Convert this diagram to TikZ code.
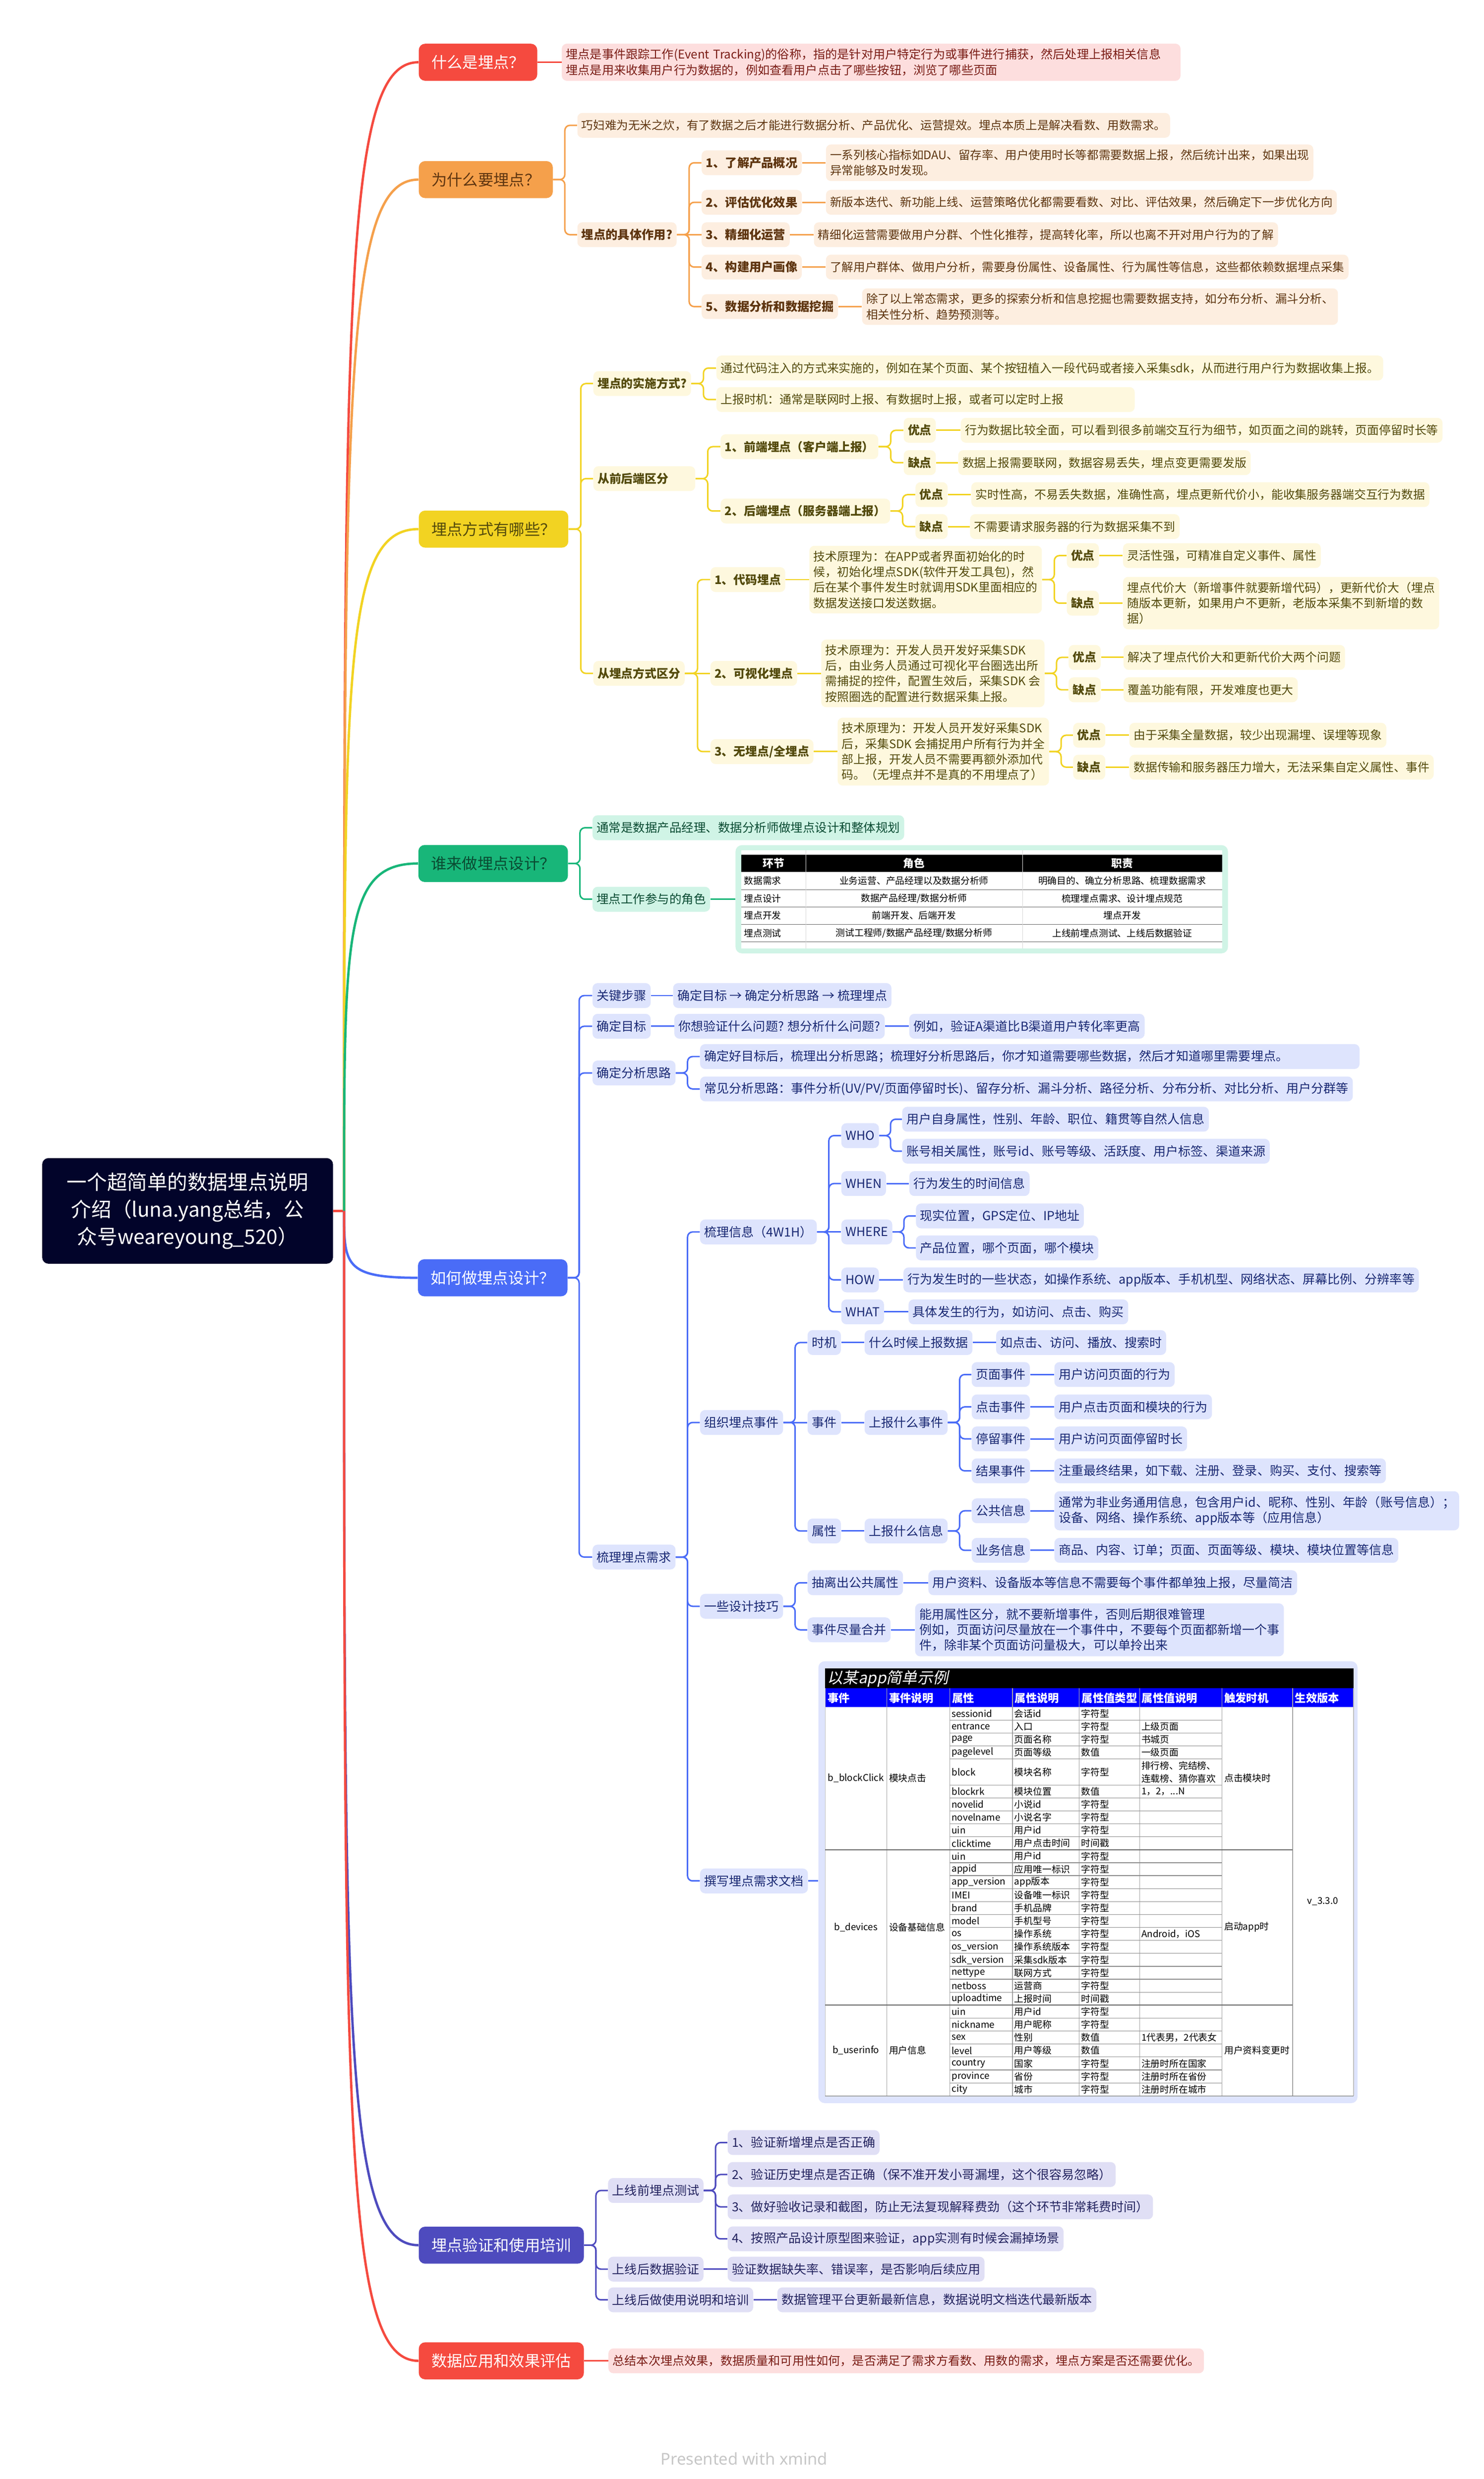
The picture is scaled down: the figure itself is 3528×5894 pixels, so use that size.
\documentclass[tikz,border=0pt]{standalone}
\usepackage{fontspec}
\setmainfont{Noto Sans CJK SC}
\newfontfamily\slantfont[FakeSlant=0.2]{Noto Sans CJK SC}
\newfontfamily\creditfont{Noto Sans}
\usetikzlibrary{calc}
\usetikzlibrary{positioning}

\definecolor{rootc}{HTML}{02042A}
\definecolor{rdM}{HTML}{F54A3F}
\definecolor{rdL}{HTML}{FDDEDE}
\definecolor{rdT}{HTML}{7A1C15}
\definecolor{ogM}{HTML}{F5A04B}
\definecolor{ogL}{HTML}{FDEEE0}
\definecolor{ogT}{HTML}{5E3510}
\definecolor{ylM}{HTML}{F2D322}
\definecolor{ylL}{HTML}{FEF8DE}
\definecolor{ylT}{HTML}{534A0C}
\definecolor{gnM}{HTML}{18B679}
\definecolor{gnL}{HTML}{D0F4E6}
\definecolor{gnT}{HTML}{0A4B32}
\definecolor{blM}{HTML}{4A6CF7}
\definecolor{blL}{HTML}{DEE4FD}
\definecolor{blT}{HTML}{192873}
\definecolor{ppM}{HTML}{4E4BBE}
\definecolor{ppL}{HTML}{E0DFF5}
\definecolor{ppT}{HTML}{23235F}

% leaf text size per branch (plain / bold)
\newcommand\fsrd{8.1}
\newcommand\fsog{7.9}
\newcommand\fsyl{8.0}
\newcommand\fsgn{8.2}
\newcommand\fsbl{8.4}
\newcommand\fspp{8.4}
\newcommand\fbog{8.15}
\newcommand\fbyl{8.0}

\tikzset{
  rootbox/.style={fill=rootc, text=white, rounded corners=0.15cm, align=center,
    inner sep=0pt, minimum width=6.91cm, minimum height=2.51cm,
    font=\fontsize{13.6}{18.5}\selectfont},
  topic/.style={fill=#1M, rounded corners=0.15cm, anchor=west, minimum height=0.88cm,
    inner xsep=0.3cm, font=\fontsize{10.5}{13}\selectfont},
  leaf/.style={fill=#1L, text=#1T, rounded corners=0.12cm, anchor=west,
    minimum height=0.59cm, inner xsep=0.1cm, inner ysep=0.12cm, align=left,
    font=\fontsize{\csname fs#1\endcsname}{10.5}\selectfont},
  bleaf/.style={leaf=#1, font=\fontsize{\csname fb#1\endcsname}{10.5}\selectfont\bfseries},
  link/.style={draw=#1M, line width=1pt, rounded corners=0.12cm},
  limb/.style={draw=#1M, line width=1.6pt},
  cell/.style={anchor=west, inner sep=0pt, align=left, font=\fontsize{6.3}{8.8}\selectfont},
  hcell/.style={inner sep=0pt, text=white, font=\fontsize{7.3}{9}\selectfont\bfseries},
  rule/.style={draw=black!60, line width=0.4pt},
}

\begin{document}
\begin{tikzpicture}[x=0.01cm, y=-0.01cm]

\fill[white] (0,0) rectangle (3528,5894);
\useasboundingbox (0,0) rectangle (3528,5894);

% root and main topics
\node[rootbox] (root) at (446,2879) {一个超简单的数据埋点说明\\介绍（luna.yang总结，公\\众号weareyoung\_520）};
\coordinate (J) at (818,2879);

\node[topic=rd, text=white] (t1) at (995,148) {什么是埋点？};
\node[topic=og, text=ogT] (t2) at (995,427) {为什么要埋点？};
\node[topic=yl, text=ylT] (t3) at (995,1258) {埋点方式有哪些？};
\node[topic=gn, text=gnT] (t4) at (994,2053) {谁来做埋点设计？};
\node[topic=bl, text=white] (t5) at (993,3038) {如何做埋点设计？};
\node[topic=pp, text=white] (t6) at (995,5338) {埋点验证和使用培训};
\node[topic=rd, text=white] (t7) at (995,5613) {数据应用和效果评估};

\draw[limb=rd] (root.east) -- (J);
\draw[limb=rd] (J) .. controls ($(J)!0.8!(J |- t1.west)$) and (J |- t1.west) .. (t1.west);
\draw[limb=og] (J) .. controls ($(J)!0.8!(J |- t2.west)$) and (J |- t2.west) .. (t2.west);
\draw[limb=yl] (J) .. controls ($(J)!0.8!(J |- t3.west)$) and (J |- t3.west) .. (t3.west);
\draw[limb=gn] (J) .. controls ($(J)!0.8!(J |- t4.west)$) and (J |- t4.west) .. (t4.west);
\draw[limb=bl] (J) .. controls ($(J)!0.8!(J |- t5.west)$) and (J |- t5.west) .. (t5.west);
\draw[limb=pp] (J) .. controls ($(J)!0.8!(J |- t6.west)$) and (J |- t6.west) .. (t6.west);
\draw[limb=rd] (J) .. controls ($(J)!0.8!(J |- t7.west)$) and (J |- t7.west) .. (t7.west);

% what
\node[leaf=rd, text width=14.5cm] (t1a) at (1335,148) {埋点是事件跟踪工作(Event Tracking)的俗称，指的是针对用户特定行为或事件进行捕获，然后处理上报相关信息\\埋点是用来收集用户行为数据的，例如查看用户点击了哪些按钮，浏览了哪些页面};
\draw[link=rd] (t1.east) -- (t1a.west);

% why
\node[leaf=og] (t2a) at (1372,298) {巧妇难为无米之炊，有了数据之后才能进行数据分析、产品优化、运营提效。埋点本质上是解决看数、用数需求。};
\node[bleaf=og] (t2b) at (1372,558) {埋点的具体作用?};
\node[bleaf=og] (w1) at ($(t2b.east |- 0,387)+(58,0)$) {1、了解产品概况};
\node[bleaf=og] (w2) at ($(t2b.east |- 0,481)+(58,0)$) {2、评估优化效果};
\node[bleaf=og] (w3) at ($(t2b.east |- 0,558)+(58,0)$) {3、精细化运营};
\node[bleaf=og] (w4) at ($(t2b.east |- 0,635)+(58,0)$) {4、构建用户画像};
\node[bleaf=og] (w5) at ($(t2b.east |- 0,729)+(58,0)$) {5、数据分析和数据挖掘};
\node[leaf=og, right=0.56cm of w1] (w1x) {一系列核心指标如DAU、留存率、用户使用时长等都需要数据上报，然后统计出来，如果出现\\异常能够及时发现。};
\node[leaf=og, right=0.56cm of w2] (w2x) {新版本迭代、新功能上线、运营策略优化都需要看数、对比、评估效果，然后确定下一步优化方向};
\node[leaf=og, right=0.56cm of w3] (w3x) {精细化运营需要做用户分群、个性化推荐，提高转化率，所以也离不开对用户行为的了解};
\node[leaf=og, right=0.56cm of w4] (w4x) {了解用户群体、做用户分析，需要身份属性、设备属性、行为属性等信息，这些都依赖数据埋点采集};
\node[leaf=og, right=0.56cm of w5] (w5x) {除了以上常态需求，更多的探索分析和信息挖掘也需要数据支持，如分布分析、漏斗分析、\\相关性分析、趋势预测等。};
\draw[link=og] (t2.east) -- ++(28,0) |- (t2a.west);
\draw[link=og] (t2.east) -- ++(28,0) |- (t2b.west);
\draw[link=og] (t2b.east) -- ++(29,0) |- (w1.west);
\draw[link=og] (t2b.east) -- ++(29,0) |- (w2.west);
\draw[link=og] (t2b.east) -- (w3.west);
\draw[link=og] (t2b.east) -- ++(29,0) |- (w4.west);
\draw[link=og] (t2b.east) -- ++(29,0) |- (w5.west);
\draw[link=og] (w1.east) -- (w1x.west);
\draw[link=og] (w2.east) -- (w2x.west);
\draw[link=og] (w3.east) -- (w3x.west);
\draw[link=og] (w4.east) -- (w4x.west);
\draw[link=og] (w5.east) -- (w5x.west);

% ways
\node[bleaf=yl] (m1) at (1410,912) {埋点的实施方式?};
\node[bleaf=yl, text width=2.22cm] (m2) at (1410,1138) {从前后端区分};
\node[bleaf=yl] (m3) at (1410,1601) {从埋点方式区分};
\node[leaf=yl] (m1a) at ($(m1.east |- 0,875)+(59,0)$) {通过代码注入的方式来实施的，例如在某个页面、某个按钮植入一段代码或者接入采集sdk，从而进行用户行为数据收集上报。};
\node[leaf=yl, text width=9.74cm] (m1b) at ($(m1.east |- 0,950)+(59,0)$) {上报时机：通常是联网时上报、有数据时上报，或者可以定时上报};
\node[bleaf=yl] (m2a) at ($(m2.east |- 0,1062)+(59,0)$) {1、前端埋点（客户端上报）};
\node[bleaf=yl] (m2b) at ($(m2.east |- 0,1215)+(59,0)$) {2、后端埋点（服务器端上报）};
\node[bleaf=yl] (m2a1) at ($(m2a.east |- 0,1023)+(59,0)$) {优点};
\node[bleaf=yl] (m2a2) at ($(m2a.east |- 0,1100)+(59,0)$) {缺点};
\node[leaf=yl, right=0.58cm of m2a1] (m2a1x) {行为数据比较全面，可以看到很多前端交互行为细节，如页面之间的跳转，页面停留时长等};
\node[leaf=yl, right=0.52cm of m2a2] (m2a2x) {数据上报需要联网，数据容易丢失，埋点变更需要发版};
\node[bleaf=yl] (m2b1) at ($(m2b.east |- 0,1176)+(59,0)$) {优点};
\node[bleaf=yl] (m2b2) at ($(m2b.east |- 0,1252)+(59,0)$) {缺点};
\node[leaf=yl, right=0.55cm of m2b1] (m2b1x) {实时性高，不易丢失数据，准确性高，埋点更新代价小，能收集服务器端交互行为数据};
\node[leaf=yl, right=0.52cm of m2b2] (m2b2x) {不需要请求服务器的行为数据采集不到};
\node[bleaf=yl] (m3a) at ($(m3.east |- 0,1378)+(60,0)$) {1、代码埋点};
\node[bleaf=yl] (m3b) at ($(m3.east |- 0,1601)+(60,0)$) {2、可视化埋点};
\node[bleaf=yl] (m3c) at ($(m3.east |- 0,1787)+(60,0)$) {3、无埋点/全埋点};
\node[leaf=yl, right=0.56cm of m3a] (m3at) {技术原理为：在APP或者界面初始化的时\\候，初始化埋点SDK(软件开发工具包)，然\\后在某个事件发生时就调用SDK里面相应的\\数据发送接口发送数据。};
\node[leaf=yl, right=0.56cm of m3b] (m3bt) {技术原理为：开发人员开发好采集SDK\\后，由业务人员通过可视化平台圈选出所\\需捕捉的控件，配置生效后，采集SDK 会\\按照圈选的配置进行数据采集上报。};
\node[leaf=yl, right=0.56cm of m3c] (m3ct) {技术原理为：开发人员开发好采集SDK\\后，采集SDK 会捕捉用户所有行为并全\\部上报，开发人员不需要再额外添加代\\码。（无埋点并不是真的不用埋点了）};
\node[bleaf=yl] (m3a1) at ($(m3at.east |- 0,1321)+(58,0)$) {优点};
\node[bleaf=yl] (m3a2) at ($(m3at.east |- 0,1434)+(58,0)$) {缺点};
\node[leaf=yl, right=0.56cm of m3a1] (m3a1x) {灵活性强，可精准自定义事件、属性};
\node[leaf=yl, right=0.56cm of m3a2] (m3a2x) {埋点代价大（新增事件就要新增代码），更新代价大（埋点\\随版本更新，如果用户不更新，老版本采集不到新增的数\\据）};
\node[bleaf=yl] (m3b1) at ($(m3bt.east |- 0,1563)+(56,0)$) {优点};
\node[bleaf=yl] (m3b2) at ($(m3bt.east |- 0,1640)+(56,0)$) {缺点};
\node[leaf=yl, right=0.53cm of m3b1] (m3b1x) {解决了埋点代价大和更新代价大两个问题};
\node[leaf=yl, right=0.53cm of m3b2] (m3b2x) {覆盖功能有限，开发难度也更大};
\node[bleaf=yl] (m3c1) at ($(m3ct.east |- 0,1748)+(56,0)$) {优点};
\node[bleaf=yl] (m3c2) at ($(m3ct.east |- 0,1824)+(56,0)$) {缺点};
\node[leaf=yl, right=0.56cm of m3c1] (m3c1x) {由于采集全量数据，较少出现漏埋、误埋等现象};
\node[leaf=yl, right=0.56cm of m3c2] (m3c2x) {数据传输和服务器压力增大，无法采集自定义属性、事件};
\draw[link=yl] (t3.east) -- ++(29,0) |- (m1.west);
\draw[link=yl] (t3.east) -- ++(29,0) |- (m2.west);
\draw[link=yl] (t3.east) -- ++(29,0) |- (m3.west);
\draw[link=yl] (m1.east) -- ++(29,0) |- (m1a.west);
\draw[link=yl] (m1.east) -- ++(29,0) |- (m1b.west);
\draw[link=yl] (m2.east) -- ++(29,0) |- (m2a.west);
\draw[link=yl] (m2.east) -- ++(29,0) |- (m2b.west);
\draw[link=yl] (m2a.east) -- ++(29,0) |- (m2a1.west);
\draw[link=yl] (m2a.east) -- ++(29,0) |- (m2a2.west);
\draw[link=yl] (m2b.east) -- ++(29,0) |- (m2b1.west);
\draw[link=yl] (m2b.east) -- ++(29,0) |- (m2b2.west);
\draw[link=yl] (m2a1.east) -- (m2a1x.west);
\draw[link=yl] (m2a2.east) -- (m2a2x.west);
\draw[link=yl] (m2b1.east) -- (m2b1x.west);
\draw[link=yl] (m2b2.east) -- (m2b2x.west);
\draw[link=yl] (m3.east) -- ++(30,0) |- (m3a.west);
\draw[link=yl] (m3.east) -- (m3b.west);
\draw[link=yl] (m3.east) -- ++(30,0) |- (m3c.west);
\draw[link=yl] (m3a.east) -- (m3at.west);
\draw[link=yl] (m3b.east) -- (m3bt.west);
\draw[link=yl] (m3c.east) -- (m3ct.west);
\draw[link=yl] (m3at.east) -- ++(29,0) |- (m3a1.west);
\draw[link=yl] (m3at.east) -- ++(29,0) |- (m3a2.west);
\draw[link=yl] (m3bt.east) -- ++(28,0) |- (m3b1.west);
\draw[link=yl] (m3bt.east) -- ++(28,0) |- (m3b2.west);
\draw[link=yl] (m3ct.east) -- ++(28,0) |- (m3c1.west);
\draw[link=yl] (m3ct.east) -- ++(28,0) |- (m3c2.west);
\draw[link=yl] (m3a1.east) -- (m3a1x.west);
\draw[link=yl] (m3a2.east) -- (m3a2x.west);
\draw[link=yl] (m3b1.east) -- (m3b1x.west);
\draw[link=yl] (m3b2.east) -- (m3b2x.west);
\draw[link=yl] (m3c1.east) -- (m3c1x.west);
\draw[link=yl] (m3c2.east) -- (m3c2x.west);

% who
\node[leaf=gn] (g1) at (1408,1968) {通常是数据产品经理、数据分析师做埋点设计和整体规划};
\node[leaf=gn] (g2) at (1408,2138) {埋点工作参与的角色};
\node[fill=gnL, rounded corners=0.15cm, anchor=west, minimum width=11.7cm, minimum height=2.57cm] (roles) at (1748,2138) {};
\fill[white] (1762,2022) rectangle (2906,2255);
\fill[black] (1762,2032) rectangle (2906,2073);
\foreach \yy in {2073,2115,2157,2198,2239} \draw[rule] (1762,\yy) -- (2906,\yy);
\foreach \xx in {1916,2431} \draw[black!15] (\xx,2022) -- (\xx,2255);
\node[hcell] (rh1) at (1839,2053) {环节};
\node[hcell] (rh2) at (2173,2053) {角色};
\node[hcell] (rh3) at (2668,2053) {职责};
\node[cell] (ra1) at (1768,2094) {数据需求};
\node[cell, anchor=center] (rb1) at (2173,2094) {业务运营、产品经理以及数据分析师};
\node[cell, anchor=center] (rc1) at (2668,2094) {明确目的、确立分析思路、梳理数据需求};
\node[cell] (ra2) at (1768,2136) {埋点设计};
\node[cell, anchor=center] (rb2) at (2173,2136) {数据产品经理/数据分析师};
\node[cell, anchor=center] (rc2) at (2668,2136) {梳理埋点需求、设计埋点规范};
\node[cell] (ra3) at (1768,2177) {埋点开发};
\node[cell, anchor=center] (rb3) at (2173,2177) {前端开发、后端开发};
\node[cell, anchor=center] (rc3) at (2668,2177) {埋点开发};
\node[cell] (ra4) at (1768,2219) {埋点测试};
\node[cell, anchor=center] (rb4) at (2173,2219) {测试工程师/数据产品经理/数据分析师};
\node[cell, anchor=center] (rc4) at (2668,2219) {上线前埋点测试、上线后数据验证};
\draw[link=gn] (t4.east) -- ++(28,0) |- (g1.west);
\draw[link=gn] (t4.east) -- ++(28,0) |- (g2.west);
\draw[link=gn] (g2.east) -- (roles.west);

% how
\node[leaf=bl] (h1) at (1408,2367) {关键步骤};
\node[leaf=bl, right=0.52cm of h1] (h1x) {确定目标 → 确定分析思路 → 梳理埋点};
\node[leaf=bl] (h2) at (1408,2440) {确定目标};
\node[leaf=bl, right=0.55cm of h2] (h2x) {你想验证什么问题? 想分析什么问题?};
\node[leaf=bl, right=0.57cm of h2x] (h2y) {例如，验证A渠道比B渠道用户转化率更高};
\node[leaf=bl] (h3) at (1408,2551) {确定分析思路};
\node[leaf=bl, text width=15.47cm] (h3a) at ($(h3.east |- 0,2512)+(57,0)$) {确定好目标后，梳理出分析思路；梳理好分析思路后，你才知道需要哪些数据，然后才知道哪里需要埋点。};
\node[leaf=bl] (h3b) at ($(h3.east |- 0,2589)+(57,0)$) {常见分析思路：事件分析(UV/PV/页面停留时长)、留存分析、漏斗分析、路径分析、分布分析、对比分析、用户分群等};
\node[leaf=bl] (h4) at (1408,3702) {梳理埋点需求};
\node[leaf=bl] (r1) at ($(h4.east |- 0,2929)+(57,0)$) {梳理信息（4W1H）};
\node[leaf=bl] (r2) at ($(h4.east |- 0,3382)+(57,0)$) {组织埋点事件};
\node[leaf=bl] (r3) at ($(h4.east |- 0,3819)+(57,0)$) {一些设计技巧};
\node[leaf=bl] (r4) at ($(h4.east |- 0,4472)+(57,0)$) {撰写埋点需求文档};
\node[leaf=bl] (who) at ($(r1.east |- 0,2700)+(57,0)$) {WHO};
\node[leaf=bl] (when) at ($(r1.east |- 0,2814)+(57,0)$) {WHEN};
\node[leaf=bl] (where) at ($(r1.east |- 0,2929)+(57,0)$) {WHERE};
\node[leaf=bl] (how) at ($(r1.east |- 0,3043)+(57,0)$) {HOW};
\node[leaf=bl] (what) at ($(r1.east |- 0,3119)+(57,0)$) {WHAT};
\node[leaf=bl] (who1) at ($(who.east |- 0,2661)+(54,0)$) {用户自身属性，性别、年龄、职位、籍贯等自然人信息};
\node[leaf=bl] (who2) at ($(who.east |- 0,2737)+(54,0)$) {账号相关属性，账号id、账号等级、活跃度、用户标签、渠道来源};
\node[leaf=bl, right=0.54cm of when] (whenx) {行为发生的时间信息};
\node[leaf=bl] (where1) at ($(where.east |- 0,2891)+(55,0)$) {现实位置，GPS定位、IP地址};
\node[leaf=bl] (where2) at ($(where.east |- 0,2967)+(55,0)$) {产品位置，哪个页面，哪个模块};
\node[leaf=bl, right=0.57cm of how] (howx) {行为发生时的一些状态，如操作系统、app版本、手机机型、网络状态、屏幕比例、分辨率等};
\node[leaf=bl, right=0.57cm of what] (whatx) {具体发生的行为，如访问、点击、购买};
\node[leaf=bl] (e1) at ($(r2.east |- 0,3192)+(57,0)$) {时机};
\node[leaf=bl] (e2) at ($(r2.east |- 0,3382)+(57,0)$) {事件};
\node[leaf=bl] (e3) at ($(r2.east |- 0,3640)+(57,0)$) {属性};
\node[leaf=bl, right=0.55cm of e1] (e1a) {什么时候上报数据};
\node[leaf=bl, right=0.55cm of e1a] (e1b) {如点击、访问、播放、搜索时};
\node[leaf=bl, right=0.55cm of e2] (e2a) {上报什么事件};
\node[leaf=bl] (k1) at ($(e2a.east |- 0,3268)+(56,0)$) {页面事件};
\node[leaf=bl] (k2) at ($(e2a.east |- 0,3345)+(56,0)$) {点击事件};
\node[leaf=bl] (k3) at ($(e2a.east |- 0,3421)+(56,0)$) {停留事件};
\node[leaf=bl] (k4) at ($(e2a.east |- 0,3497)+(56,0)$) {结果事件};
\node[leaf=bl, right=0.57cm of k1] (k1x) {用户访问页面的行为};
\node[leaf=bl, right=0.57cm of k2] (k2x) {用户点击页面和模块的行为};
\node[leaf=bl, right=0.57cm of k3] (k3x) {用户访问页面停留时长};
\node[leaf=bl, right=0.57cm of k4] (k4x) {注重最终结果，如下载、注册、登录、购买、支付、搜索等};
\node[leaf=bl, right=0.55cm of e3] (e3a) {上报什么信息};
\node[leaf=bl] (p1) at ($(e3a.east |- 0,3592)+(56,0)$) {公共信息};
\node[leaf=bl] (p2) at ($(e3a.east |- 0,3686)+(56,0)$) {业务信息};
\node[leaf=bl, right=0.57cm of p1] (p1x) {通常为非业务通用信息，包含用户id、昵称、性别、年龄（账号信息）；\\设备、网络、操作系统、app版本等（应用信息）};
\node[leaf=bl, right=0.57cm of p2] (p2x) {商品、内容、订单；页面、页面等级、模块、模块位置等信息};
\node[leaf=bl] (d1) at ($(r3.east |- 0,3763)+(57,0)$) {抽离出公共属性};
\node[leaf=bl] (d2) at ($(r3.east |- 0,3875)+(57,0)$) {事件尽量合并};
\node[leaf=bl, right=0.59cm of d1] (d1x) {用户资料、设备版本等信息不需要每个事件都单独上报，尽量简洁};
\node[leaf=bl, right=0.57cm of d2] (d2x) {能用属性区分，就不要新增事件，否则后期很难管理\\例如，页面访问尽量放在一个事件中，不要每个页面都新增一个事\\件，除非某个页面访问量极大，可以单拎出来};
\draw[link=bl] (t5.east) -- ++(27,0) |- (h1.west);
\draw[link=bl] (t5.east) -- ++(27,0) |- (h2.west);
\draw[link=bl] (t5.east) -- ++(27,0) |- (h3.west);
\draw[link=bl] (t5.east) -- ++(27,0) |- (h4.west);
\draw[link=bl] (h1.east) -- (h1x.west);
\draw[link=bl] (h2.east) -- (h2x.west);
\draw[link=bl] (h2x.east) -- (h2y.west);
\draw[link=bl] (h3.east) -- ++(28,0) |- (h3a.west);
\draw[link=bl] (h3.east) -- ++(28,0) |- (h3b.west);
\draw[link=bl] (h4.east) -- ++(28,0) |- (r1.west);
\draw[link=bl] (h4.east) -- ++(28,0) |- (r2.west);
\draw[link=bl] (h4.east) -- ++(28,0) |- (r3.west);
\draw[link=bl] (h4.east) -- ++(28,0) |- (r4.west);
\draw[link=bl] (r1.east) -- ++(28,0) |- (who.west);
\draw[link=bl] (r1.east) -- ++(28,0) |- (when.west);
\draw[link=bl] (r1.east) -- (where.west);
\draw[link=bl] (r1.east) -- ++(28,0) |- (how.west);
\draw[link=bl] (r1.east) -- ++(28,0) |- (what.west);
\draw[link=bl] (who.east) -- ++(27,0) |- (who1.west);
\draw[link=bl] (who.east) -- ++(27,0) |- (who2.west);
\draw[link=bl] (when.east) -- (whenx.west);
\draw[link=bl] (where.east) -- ++(27,0) |- (where1.west);
\draw[link=bl] (where.east) -- ++(27,0) |- (where2.west);
\draw[link=bl] (how.east) -- (howx.west);
\draw[link=bl] (what.east) -- (whatx.west);
\draw[link=bl] (r2.east) -- ++(28,0) |- (e1.west);
\draw[link=bl] (r2.east) -- (e2.west);
\draw[link=bl] (r2.east) -- ++(28,0) |- (e3.west);
\draw[link=bl] (e1.east) -- (e1a.west);
\draw[link=bl] (e1a.east) -- (e1b.west);
\draw[link=bl] (e2.east) -- (e2a.west);
\draw[link=bl] (e2a.east) -- ++(28,0) |- (k1.west);
\draw[link=bl] (e2a.east) -- ++(28,0) |- (k2.west);
\draw[link=bl] (e2a.east) -- ++(28,0) |- (k3.west);
\draw[link=bl] (e2a.east) -- ++(28,0) |- (k4.west);
\draw[link=bl] (k1.east) -- (k1x.west);
\draw[link=bl] (k2.east) -- (k2x.west);
\draw[link=bl] (k3.east) -- (k3x.west);
\draw[link=bl] (k4.east) -- (k4x.west);
\draw[link=bl] (e3.east) -- (e3a.west);
\draw[link=bl] (e3a.east) -- ++(28,0) |- (p1.west);
\draw[link=bl] (e3a.east) -- ++(28,0) |- (p2.west);
\draw[link=bl] (p1.east) -- (p1x.west);
\draw[link=bl] (p2.east) -- (p2x.west);
\draw[link=bl] (r3.east) -- ++(28,0) |- (d1.west);
\draw[link=bl] (r3.east) -- ++(28,0) |- (d2.west);
\draw[link=bl] (d1.east) -- (d1x.west);
\draw[link=bl] (d2.east) -- (d2x.west);

% app table
\node[fill=blL, rounded corners=0.15cm, anchor=west, minimum width=12.81cm, minimum height=10.5cm] (apptab) at (1945,4475) {};
\draw[link=bl] (r4.east) -- (apptab.west |- r4.east);
\fill[white] (1962,3967) rectangle (3218,4984);
\fill[black] (1962,3967) rectangle (3218,4014);
\fill[blue] (1962,4014) rectangle (3218,4059);
\node[anchor=west, inner sep=0pt, text=white, font=\slantfont\fontsize{10.5}{12}\selectfont] (apptitle) at (1966,3991) {以某app简单示例};
\foreach \xx/\hd [count=\k] in {1962/事件, 2108/事件说明, 2258/属性, 2407/属性说明, 2566/属性值类型, 2709/属性值说明, 2905/触发时机, 3073/生效版本}
  \node[hcell, anchor=west, font=\fontsize{7.5}{9}\selectfont\bfseries] (hd\k) at (\xx+5,4037) {\hd};
\foreach \xx in {2108,2258,2407,2566,2709,2905,3073} \draw[black!35, line width=0.4pt] (\xx,4014) -- (\xx,4983);
\draw[black!25, line width=0.4pt] (1962,4014) -- (1962,4983);
\draw[black!25, line width=0.4pt] (3218,4014) -- (3218,4983);
\foreach \u/\h/\attr/\adesc/\atype/\aval in {
  0/1/sessionid/会话id/字符型/{},
  1/1/entrance/入口/字符型/上级页面,
  2/1/page/页面名称/字符型/书城页,
  3/1/pagelevel/页面等级/数值/一级页面,
  4/2/block/模块名称/字符型/{排行榜、完结榜、\\连载榜、猜你喜欢},
  6/1/blockrk/模块位置/数值/{1，2，...N},
  7/1/novelid/小说id/字符型/{},
  8/1/novelname/小说名字/字符型/{},
  9/1/uin/用户id/字符型/{},
  10/1/clicktime/用户点击时间/时间戳/{},
  11/1/uin/用户id/字符型/{},
  12/1/appid/应用唯一标识/字符型/{},
  13/1/app\_version/app版本/字符型/{},
  14/1/IMEI/设备唯一标识/字符型/{},
  15/1/brand/手机品牌/字符型/{},
  16/1/model/手机型号/字符型/{},
  17/1/os/操作系统/字符型/{Android，iOS},
  18/1/os\_version/操作系统版本/字符型/{},
  19/1/sdk\_version/采集sdk版本/字符型/{},
  20/1/nettype/联网方式/字符型/{},
  21/1/netboss/运营商/字符型/{},
  22/1/uploadtime/上报时间/时间戳/{},
  23/1/uin/用户id/字符型/{},
  24/1/nickname/用户昵称/字符型/{},
  25/1/sex/性别/数值/{1代表男，2代表女},
  26/1/level/用户等级/数值/{},
  27/1/country/国家/字符型/注册时所在国家,
  28/1/province/省份/字符型/注册时所在省份,
  29/1/city/城市/字符型/注册时所在城市}{
  \node[cell] (ka\u) at (2262, {4059+(\u+\h/2)*30.8}) {\attr};
  \node[cell] (kb\u) at (2411, {4059+(\u+\h/2)*30.8}) {\adesc};
  \node[cell] (kc\u) at (2570, {4059+(\u+\h/2)*30.8}) {\atype};
  \node[cell] (kd\u) at (2713, {4059+(\u+\h/2)*30.8}) {\aval};
  \draw[black!45, line width=0.4pt] (2258, {4059+(\u+\h)*30.8}) -- (2905, {4059+(\u+\h)*30.8});
}
\draw[rule] (1962,4398) -- (3073,4398);
\draw[rule] (1962,4767) -- (3073,4767);
\draw[rule] (1962,4983) -- (3218,4983);
\node[cell, anchor=center] (ev1) at (2035,4228) {b\_blockClick};
\node[cell] (es1) at (2113,4228) {模块点击};
\node[cell] (et1) at (2910,4228) {点击模块时};
\node[cell, anchor=center] (ev2) at (2035,4582) {b\_devices};
\node[cell] (es2) at (2113,4582) {设备基础信息};
\node[cell] (et2) at (2910,4582) {启动app时};
\node[cell, anchor=center] (ev3) at (2035,4875) {b\_userinfo};
\node[cell] (es3) at (2113,4875) {用户信息};
\node[cell] (et3) at (2910,4875) {用户资料变更时};
\node[cell, anchor=center] (ver) at (3145,4521) {v\_3.3.0};

% test
\node[leaf=pp] (v1) at (1445,5208) {上线前埋点测试};
\node[leaf=pp] (v2) at (1445,5395) {上线后数据验证};
\node[leaf=pp] (v3) at (1445,5468) {上线后做使用说明和培训};
\node[leaf=pp] (v1a) at ($(v1.east |- 0,5094)+(56,0)$) {1、验证新增埋点是否正确};
\node[leaf=pp] (v1b) at ($(v1.east |- 0,5170)+(56,0)$) {2、验证历史埋点是否正确（保不准开发小哥漏埋，这个很容易忽略）};
\node[leaf=pp] (v1c) at ($(v1.east |- 0,5247)+(56,0)$) {3、做好验收记录和截图，防止无法复现解释费劲（这个环节非常耗费时间）};
\node[leaf=pp] (v1d) at ($(v1.east |- 0,5323)+(56,0)$) {4、按照产品设计原型图来验证，app实测有时候会漏掉场景};
\node[leaf=pp, right=0.56cm of v2] (v2x) {验证数据缺失率、错误率，是否影响后续应用};
\node[leaf=pp, right=0.56cm of v3] (v3x) {数据管理平台更新最新信息，数据说明文档迭代最新版本};
\draw[link=pp] (t6.east) -- ++(28,0) |- (v1.west);
\draw[link=pp] (t6.east) -- ++(28,0) |- (v2.west);
\draw[link=pp] (t6.east) -- ++(28,0) |- (v3.west);
\draw[link=pp] (v1.east) -- ++(28,0) |- (v1a.west);
\draw[link=pp] (v1.east) -- ++(28,0) |- (v1b.west);
\draw[link=pp] (v1.east) -- ++(28,0) |- (v1c.west);
\draw[link=pp] (v1.east) -- ++(28,0) |- (v1d.west);
\draw[link=pp] (v2.east) -- (v2x.west);
\draw[link=pp] (v3.east) -- (v3x.west);

% review
\node[leaf=rd, right=0.57cm of t7] (t7a) {总结本次埋点效果，数据质量和可用性如何，是否满足了需求方看数、用数的需求，埋点方案是否还需要优化。};
\draw[link=rd] (t7.east) -- (t7a.west);

\node[text=black!22, font=\creditfont\fontsize{11}{13}\selectfont] (credit) at (1769,5846) {Presented with \textbf{xmind}};

\end{tikzpicture}
\end{document}
